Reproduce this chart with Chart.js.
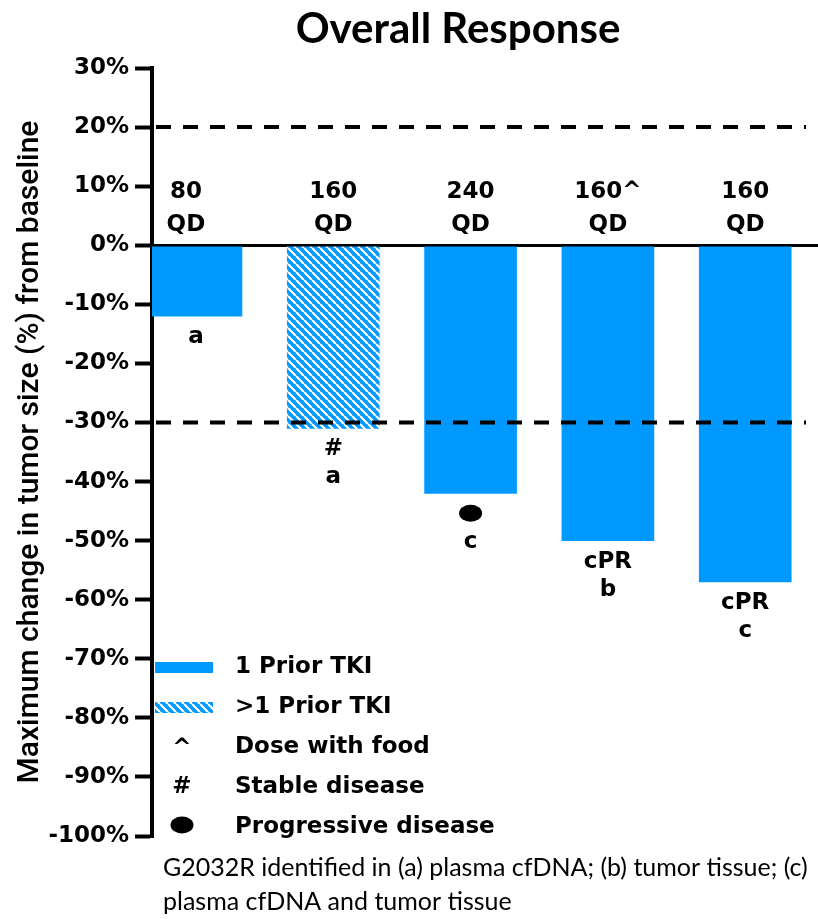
<!DOCTYPE html>
<html>
<head>
<meta charset="utf-8">
<title>Overall Response</title>
<script src="https://cdn.jsdelivr.net/npm/chart.js@4.4.0/dist/chart.umd.min.js"></script>
<style>
    html, body { margin: 0; padding: 0; background: #fff; }
    #wrap { width: 818px; height: 919px; }
</style>
</head>
<body>
<div id="wrap"><canvas id="responseChart" width="818" height="919"></canvas></div>
<script>
// Overall response - waterfall of best change in tumour size

// Data
const doses = ['80', '160', '240', '160^', '160'];
const schedule = ['QD', 'QD', 'QD', 'QD', 'QD'];
const maxChange = [-12, -31, -42, -50, -57];
const priorTki = [1, 2, 1, 1, 1];               // 2 = more than one prior TKI
const bestResponse = ['', '#', '●', 'cPR', 'cPR'];
const g2032rSource = ['a', 'a', 'c', 'b', 'c'];
const refLines = [20, -30];
const yMin = -100;
const yMax = 30;
const yStep = 10;
const legendLabels = ['1 Prior TKI', '>1 Prior TKI', 'Dose with food', 'Stable disease', 'Progressive disease'];
const legendSymbols = ['solid', 'hatch', '^', '#', '●'];
const footnote = [
    'G2032R identified in (a) plasma cfDNA; (b) tumor tissue; (c)',
    'plasma cfDNA and tumor tissue'
];

const BLUE = '#0099ff';
const LABEL_FONT = 'bold 23px "DejaVu Sans"';

const canvas = document.getElementById('responseChart');
const ctx = canvas.getContext('2d');

// diagonal white stripes on blue
function makeHatch() {
    const c = document.createElement('canvas');
    c.width = 8;
    c.height = 8;
    const g = c.getContext('2d');
    g.fillStyle = BLUE;
    g.fillRect(0, 0, 8, 8);
    g.strokeStyle = '#fff';
    g.lineWidth = 2.2;
    g.beginPath();
    [-8, 0, 8].forEach(x0 => {
        g.moveTo(x0, 0);
        g.lineTo(x0 + 8, 8);
    });
    g.stroke();
    return ctx.createPattern(c, 'repeat');
}
const hatch = makeHatch();

function drawDot(c, x, y) {
    c.beginPath();
    c.ellipse(x, y, 11.5, 8.5, 0, 0, Math.PI * 2);
    c.fillStyle = '#000';
    c.fill();
}

const annotations = {
    id: 'annotations',
    afterDatasetsDraw(chart) {
        const c = chart.ctx;
        const area = chart.chartArea;
        const yScale = chart.scales.y;
        const zeroY = yScale.getPixelForValue(0);
        const bars = chart.getDatasetMeta(0).data;

        c.save();

        // reference lines
        c.strokeStyle = '#000';
        c.lineWidth = 4;
        c.setLineDash([15, 12]);
        refLines.forEach(v => {
            const y = yScale.getPixelForValue(v);
            c.beginPath();
            c.moveTo(area.left + 4, y);
            c.lineTo(area.right - 12, y);
            c.stroke();
        });
        c.setLineDash([]);

        // dose labels above zero
        c.fillStyle = '#000';
        c.font = LABEL_FONT;
        c.textAlign = 'center';
        c.textBaseline = 'alphabetic';
        bars.forEach((bar, i) => {
            const x = i === 0 ? bar.x - 10 : bar.x;   // first label sits a bit left in the original
            c.fillText(doses[i], x, zeroY - 47);
            c.fillText(schedule[i], x, zeroY - 14);
        });

        // response / source labels under bars
        bars.forEach((bar, i) => {
            const lines = [bestResponse[i], g2032rSource[i]].filter(Boolean);
            lines.forEach((txt, j) => {
                const base = bar.y + 27 + j * 28;
                if (txt === '●') {
                    drawDot(c, bar.x, bar.y + 20);
                } else {
                    c.fillText(txt, bar.x, base);
                }
            });
        });

        // legend
        const symX = area.left + 30;
        legendLabels.forEach((label, i) => {
            const base = 673 + i * 40;
            const sym = legendSymbols[i];
            if (sym === 'solid' || sym === 'hatch') {
                c.fillStyle = sym === 'solid' ? BLUE : hatch;
                c.fillRect(area.left + 3, base - 11, 58, 11);
            } else if (sym === '●') {
                drawDot(c, symX, base - 8);
            } else {
                c.fillStyle = '#000';
                c.textAlign = 'center';
                c.fillText(sym, symX, base + (sym === '^' ? 2 : 0));
            }
            c.fillStyle = '#000';
            c.textAlign = 'left';
            c.fillText(label, area.left + 83, base);
        });

        c.restore();
    },
    afterDraw(chart) {
        const c = chart.ctx;
        c.save();
        c.fillStyle = '#000';
        c.textAlign = 'center';
        c.textBaseline = 'alphabetic';
        c.font = 'bold 42px Lato';
        c.fillText('Overall Response', 458, 43);

        c.textAlign = 'left';
        c.font = '25px Lato';
        footnote.forEach((line, i) => {
            c.fillText(line, 163, 876 + i * 34);
        });
        c.restore();
    }
};

new Chart(canvas, {
    type: 'bar',
    data: {
        datasets: [{
            label: 'Maximum change in tumor size',
            data: maxChange.map((v, i) => ({ x: i, y: v })),
            backgroundColor: priorTki.map(n => n > 1 ? hatch : BLUE),
            borderWidth: 0,
            barThickness: 92
        }]
    },
    options: {
        responsive: false,
        animation: false,
        layout: {
            padding: { top: 68, right: 0, bottom: 83, left: 0 }
        },
        plugins: {
            legend: { display: false },
            tooltip: { enabled: false },
            title: { display: false }
        },
        scales: {
            x: {
                type: 'linear',
                min: -0.32,
                max: 4.53,
                offset: false,
                display: false
            },
            y: {
                min: yMin,
                max: yMax,
                afterFit: (scale) => { scale.width = 152; },
                border: { display: true, color: '#000', width: 4 },
                grid: {
                    color: (c) => (c.tick && c.tick.value === 0) ? '#000' : 'rgba(0,0,0,0)',
                    lineWidth: 3,
                    drawTicks: true,
                    tickLength: 17,
                    tickWidth: 4,
                    tickColor: '#000'
                },
                ticks: {
                    stepSize: yStep,
                    color: '#000',
                    padding: 6,
                    font: { family: 'DejaVu Sans', weight: 'bold', size: 23 },
                    callback: (v) => v + '%'
                },
                title: {
                    display: true,
                    text: 'Maximum change in tumor size (%) from baseline',
                    color: '#000',
                    font: { family: 'Roboto', weight: '500', size: 30 },
                    padding: { top: 12, bottom: 0 }
                }
            }
        }
    },
    plugins: [annotations]
});
</script>
</body>
</html>
